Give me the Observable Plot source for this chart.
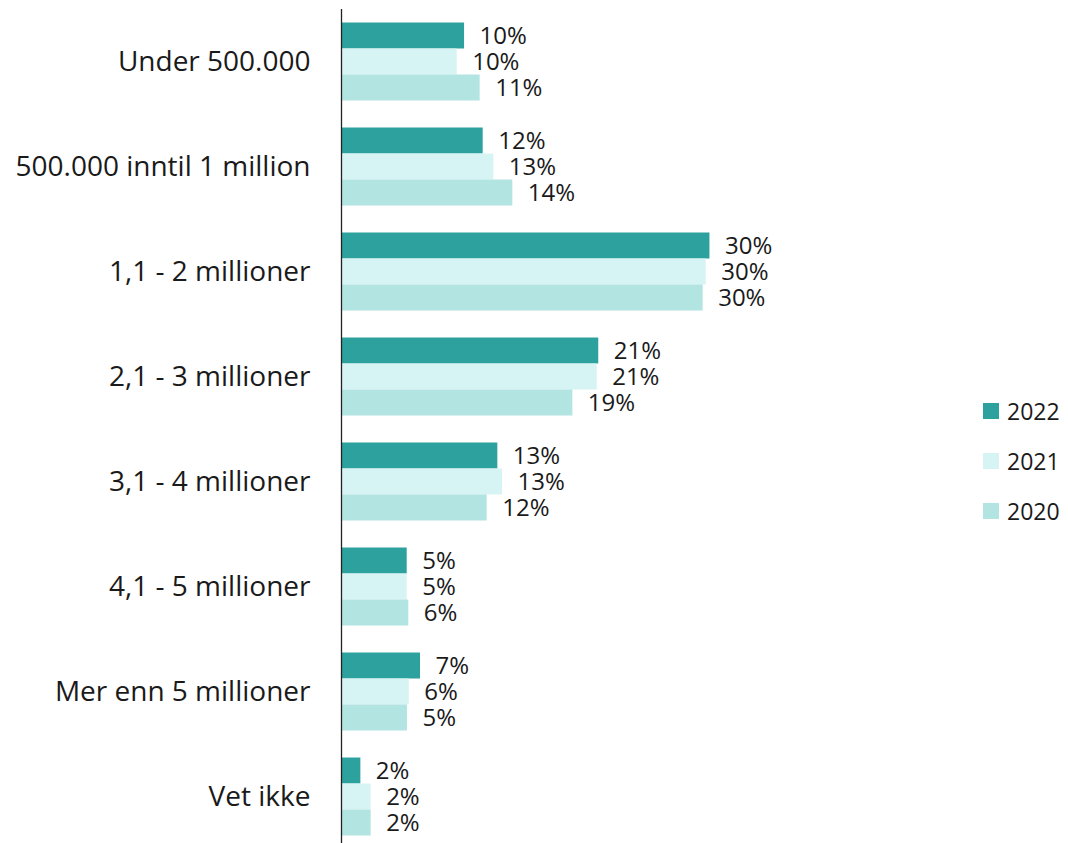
<!DOCTYPE html>
<html>
<head>
<meta charset="utf-8">
<script src="https://cdn.jsdelivr.net/npm/d3@7"></script>
<script src="https://cdn.jsdelivr.net/npm/@observablehq/plot@0.6"></script>
<style>
  html, body { margin: 0; padding: 0; overflow: hidden; background: #fff; }
  #wrap { position: relative; width: 1068px; height: 843px; font-family: "Open Sans", sans-serif; }
  #legend { position: absolute; left: 983px; top: 399px; }
  .item { display: flex; align-items: center; height: 24px; margin-bottom: 26px; font-size: 23px; color: #1a1a1a; }
  .sw { width: 16px; height: 16px; margin-right: 8px; }
</style>
</head>
<body>
<div id="wrap"></div>
<script>
const categories = ["Under 500.000", "500.000 inntil 1 million", "1,1 - 2 millioner", "2,1 - 3 millioner",
  "3,1 - 4 millioner", "4,1 - 5 millioner", "Mer enn 5 millioner", "Vet ikke"];
const years = ["2022", "2021", "2020"];
const values2022 = [10.17, 11.71, 30.45, 21.26, 12.92, 5.43, 6.53, 1.6];
const values2021 = [9.56, 12.59, 30.14, 21.13, 13.31, 5.43, 5.6, 2.45];
const values2020 = [11.46, 14.16, 29.89, 19.12, 12.04, 5.56, 5.45, 2.45];
const colors = ["#2ca19e", "#d7f4f4", "#b2e4e1"];

const series = [values2022, values2021, values2020];
const data = [];
categories.forEach((c, i) => {
  years.forEach((y, j) => data.push({category: c, year: y, value: series[j][i]}));
});

const chart = Plot.plot({
  width: 1068,
  height: 851,
  marginTop: 7.5,
  marginBottom: 0,
  marginLeft: 341,
  marginRight: 122,
  style: {fontFamily: "Open Sans, sans-serif", fontSize: "28px", color: "#1a1a1a", background: "white"},
  x: {domain: [0, 50], axis: null},
  y: {domain: years, paddingInner: 0, paddingOuter: 0.5, axis: null},
  fy: {domain: categories, padding: 0, label: null, axis: "left", tickSize: 0, tickPadding: 31},
  color: {domain: years, range: colors},
  marks: [
    Plot.barX(data, {x: "value", y: "year", fy: "category", fill: "year"}),
    Plot.text(data, {x: "value", y: "year", fy: "category", text: d => Math.round(d.value) + "%",
      textAnchor: "start", dx: 15, fontSize: 24, fill: "#1a1a1a"}),
    Plot.ruleX([0], {stroke: "#222", strokeWidth: 1.3})
  ]
});

const wrap = document.getElementById("wrap");
wrap.appendChild(chart);

const legend = document.createElement("div");
legend.id = "legend";
years.forEach((y, j) => {
  const item = document.createElement("div");
  item.className = "item";
  const sw = document.createElement("div");
  sw.className = "sw";
  sw.style.background = colors[j];
  const t = document.createElement("span");
  t.textContent = y;
  item.appendChild(sw);
  item.appendChild(t);
  legend.appendChild(item);
});
wrap.appendChild(legend);
</script>
</body>
</html>
